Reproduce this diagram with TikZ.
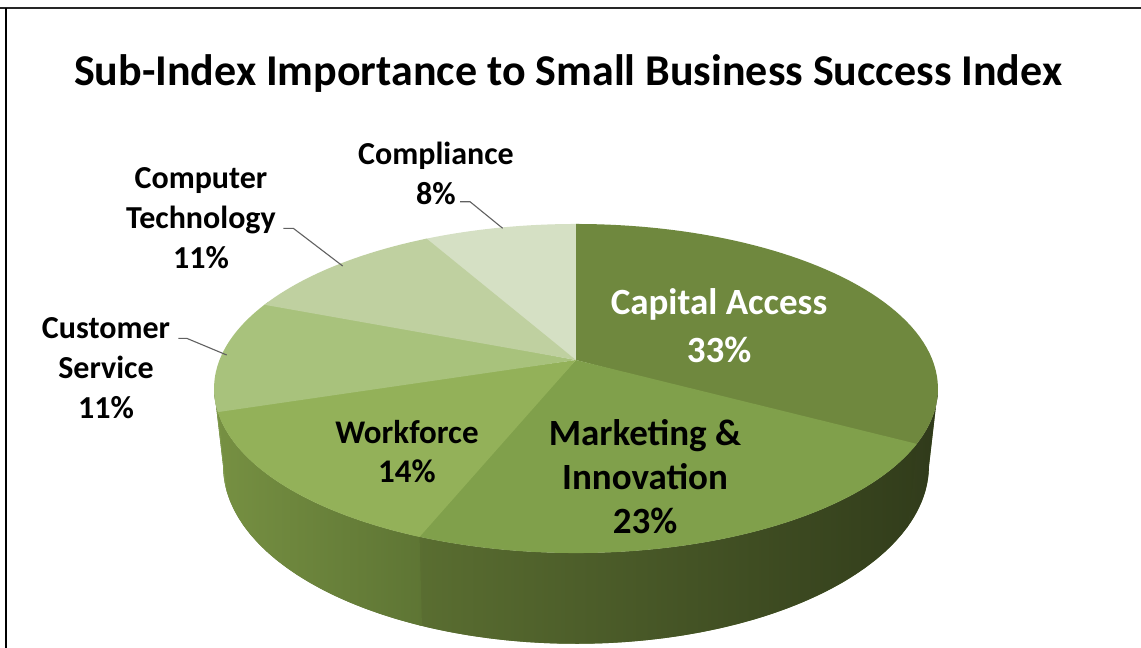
\documentclass[tikz,border=0pt]{standalone}
\usepackage{fontspec}
\setmainfont{Carlito}
\definecolor{sCap}{RGB}{47,57,26}
\definecolor{sCapB}{RGB}{52,63,29}
\definecolor{sMarL}{RGB}{90,110,49}
\definecolor{sMarR}{RGB}{50,61,27}
\definecolor{sWorL}{RGB}{118,144,66}
\definecolor{sWorM}{RGB}{127,155,72}
\definecolor{sWorR}{RGB}{94,117,52}
\definecolor{sCus}{RGB}{128,155,76}
\definecolor{tCap}{RGB}{111,136,62}
\definecolor{tMar}{RGB}{128,160,75}
\definecolor{tWor}{RGB}{147,177,89}
\definecolor{tCus}{RGB}{168,194,124}
\definecolor{tTec}{RGB}{191,208,160}
\definecolor{tCom}{RGB}{213,224,196}
\begin{document}
\begin{tikzpicture}[x=1pt,y=-1pt,
  declare function={
    wf(\t)=1+0.1733*cos(360*\t);
    px(\t)=576+356.5*sin(360*\t)/wf(\t);
    py(\t)=360-159.6*cos(360*\t)/wf(\t);
    qx(\t)=576+0.975*356.5*sin(360*\t)/wf(\t);
    qy(\t)=py(\t)+75/wf(\t);
  },
  lbl/.style={align=center,text=black,inner sep=0pt,font=\bfseries\fontsize{32}{40}\selectfont},
  leader/.style={draw=black!62,line width=1.1pt},
  rim/.style={samples=60}]
\useasboundingbox (0,0) rectangle (1141,648);
\fill[white] (0,0) rectangle (1141,648);
% frame
\draw[line width=2.5pt,black!85] (0,8) -- (1141,8);
\draw[line width=2.5pt,black] (6,8) -- (6,648);
% title
\node[font=\bfseries\fontsize{44}{52}\selectfont,inner sep=0pt] (title) at (568,74) {Sub-Index Importance to Small Business Success Index};
% side faces: base under all pieces to hide seams
\fill[sWorR]
  plot[rim,domain=0.278:0.722] ({px(\x)},{py(\x)}) -- plot[rim,domain=0.722:0.278] ({qx(\x)},{qy(\x)}) -- cycle;
\shade[left color=sCapB, right color=sCap]
  plot[rim,domain=0.278:0.332] ({px(\x)},{py(\x)}) -- plot[rim,domain=0.332:0.278] ({qx(\x)},{qy(\x)}) -- cycle;
\shade[left color=sMarL, right color=sMarR]
  plot[rim,domain=0.33:0.562] ({px(\x)},{py(\x)}) -- plot[rim,domain=0.562:0.33] ({qx(\x)},{qy(\x)}) -- cycle;
\shade[left color=sWorL, middle color=sWorM, right color=sWorR]
  plot[rim,domain=0.56:0.702] ({px(\x)},{py(\x)}) -- plot[rim,domain=0.702:0.56] ({qx(\x)},{qy(\x)}) -- cycle;
\fill[sCus]
  plot[rim,domain=0.70:0.722] ({px(\x)},{py(\x)}) -- plot[rim,domain=0.722:0.70] ({qx(\x)},{qy(\x)}) -- cycle;
% top slices (each overlaps the next slightly to hide seams)
\coordinate (O) at (576,360);
\fill[tCom] (O) -- plot[rim,domain=0.918:1.004] ({px(\x)},{py(\x)}) -- cycle;
\fill[tCap] (O) -- plot[rim,domain=0:0.334] ({px(\x)},{py(\x)}) -- cycle;
\fill[tMar] (O) -- plot[rim,domain=0.33:0.564] ({px(\x)},{py(\x)}) -- cycle;
\fill[tWor] (O) -- plot[rim,domain=0.56:0.704] ({px(\x)},{py(\x)}) -- cycle;
\fill[tCus] (O) -- plot[rim,domain=0.70:0.814] ({px(\x)},{py(\x)}) -- cycle;
\fill[tTec] (O) -- plot[rim,domain=0.81:0.92] ({px(\x)},{py(\x)}) -- cycle;
% labels
\node[lbl] (lComp) at (436,173) {Compliance\\8\%};
\node[lbl] (lTech) at (201,218) {Computer\\Technology\\11\%};
\node[lbl] (lCust) at (106,368) {Customer\\Service\\11\%};
\node[lbl,text=white,font=\bfseries\fontsize{37}{48}\selectfont] (lCap) at (719,326) {Capital Access\\33\%};
\node[lbl,font=\bfseries\fontsize{33}{39}\selectfont] (lWork) at (407,452) {Workforce\\14\%};
\node[lbl,font=\bfseries\fontsize{37}{44}\selectfont] (lMark) at (645,477) {Marketing \&\\Innovation\\23\%};
% leader lines
\coordinate (a1) at (460,201.7); \coordinate (a2) at (470,201.7); \coordinate (a3) at (502.7,228.3);
\coordinate (b1) at (283.3,228.3); \coordinate (b2) at (293.3,228.3); \coordinate (b3) at (342.7,266);
\coordinate (c1) at (178.3,338.3); \coordinate (c2) at (186.7,338.3); \coordinate (c3) at (226.7,355);
\draw[leader] (a1) -- (a2) -- (a3);
\draw[leader] (b1) -- (b2) -- (b3);
\draw[leader] (c1) -- (c2) -- (c3);
\end{tikzpicture}
\end{document}
